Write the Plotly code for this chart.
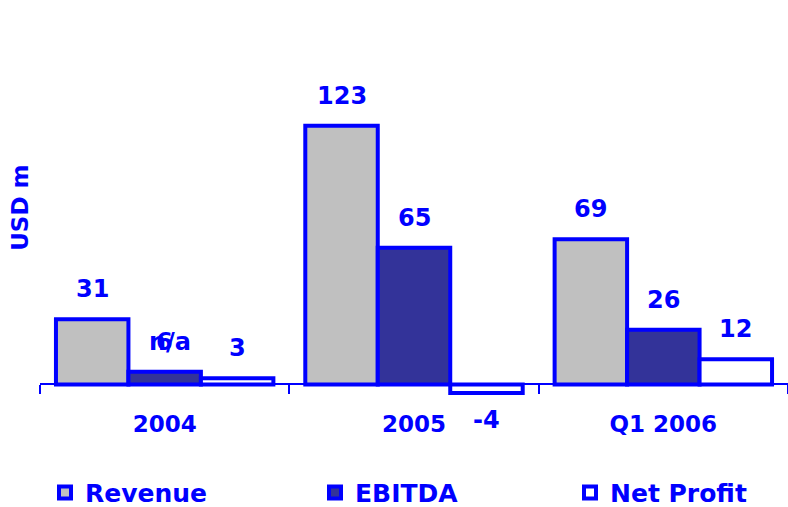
import plotly.graph_objects as go

BLUE = "#0000FF"
FONT = "DejaVu Sans"

categories = ["2004", "2005", "Q1 2006"]
series_names = ["Revenue", "EBITDA", "Net Profit"]
revenue = [31, 123, 69]
ebitda = [6, 65, 26]
net_profit = [3, -4, 12]
fills = ["#C0C0C0", "#333399", "#FFFFFF"]
na_note = "n/a"  # printed over the 2004 EBITDA value in the original
y_title = "USD m"

BARGAP = 0.128
Y_RANGE = [-5, 140]
LEGEND_X = [45, 315, 570]  # px from the left, one legend box per series

fig = go.Figure()
all_values = [revenue, ebitda, net_profit]
legend_ids = ["legend", "legend2", "legend3"]
for name, vals, fill, lg in zip(series_names, all_values, fills, legend_ids):
    fig.add_trace(
        go.Bar(
            name=name,
            x=categories,
            y=vals,
            legend=lg,
            showlegend=True,  # a one-item legend is hidden otherwise
            marker=dict(color=fill, line=dict(color=BLUE, width=4)),
        )
    )

# value labels, set a bit further off the bars than plotly's own outside text
label_font = dict(family=FONT, size=24, color=BLUE, weight="bold")
w = (1 - BARGAP) / len(series_names)
for i, vals in enumerate(all_values):
    for j, v in enumerate(vals):
        fig.add_annotation(
            x=j + (i - 1) * w,
            y=v,
            text=str(v),
            showarrow=False,
            yanchor="bottom" if v >= 0 else "top",
            yshift=14 if v >= 0 else -11,
            font=label_font,
        )
fig.add_annotation(
    x=0,
    y=ebitda[0],
    text=na_note,
    showarrow=False,
    yanchor="bottom",
    yshift=14,
    xshift=5,
    font=label_font,
)
# axis title sits above the plot's middle in the original, so place it by hand
fig.add_annotation(
    xref="paper",
    yref="paper",
    x=-0.027,
    y=0.613,
    xanchor="center",
    yanchor="middle",
    text=y_title,
    textangle=-90,
    showarrow=False,
    font=dict(family=FONT, size=23, color=BLUE, weight="bold"),
)

legend_style = dict(
    orientation="h",
    xref="container",
    yref="container",
    y=0.028,
    xanchor="left",
    yanchor="middle",
    bgcolor="rgba(0,0,0,0)",
    font=dict(family=FONT, size=25, color=BLUE, weight="bold"),
)
fig.update_layout(
    width=788,
    height=507,
    showlegend=True,
    barmode="group",
    bargap=BARGAP,
    bargroupgap=0,
    paper_bgcolor="white",
    plot_bgcolor="white",
    margin=dict(l=40, r=0, t=90, b=112, autoexpand=False),
    font=dict(family=FONT, color=BLUE, weight="bold"),
    legend=dict(x=LEGEND_X[0] / 788, **legend_style),
    legend2=dict(x=LEGEND_X[1] / 788, **legend_style),
    legend3=dict(x=LEGEND_X[2] / 788, **legend_style),
)
fig.update_xaxes(
    type="category",
    anchor="free",
    position=(0 - Y_RANGE[0]) / (Y_RANGE[1] - Y_RANGE[0]),
    automargin=False,
    showline=True,
    linecolor=BLUE,
    linewidth=2,
    ticks="outside",
    tickson="boundaries",
    ticklen=9,
    tickwidth=2,
    tickcolor=BLUE,
    ticklabelstandoff=19,
    tickfont=dict(family=FONT, size=23, color=BLUE, weight="bold"),
    showgrid=False,
)
fig.update_yaxes(
    range=Y_RANGE,
    automargin=False,
    showticklabels=False,
    showgrid=False,
    zeroline=False,
    showline=False,
    ticks="",
)

# the page body has a default 8px margin; drop it so the figure sits at 0,0
fig.write_html(
    "out.html",
    config={"displayModeBar": False},
    post_script="document.body.style.margin = '0';",
)
